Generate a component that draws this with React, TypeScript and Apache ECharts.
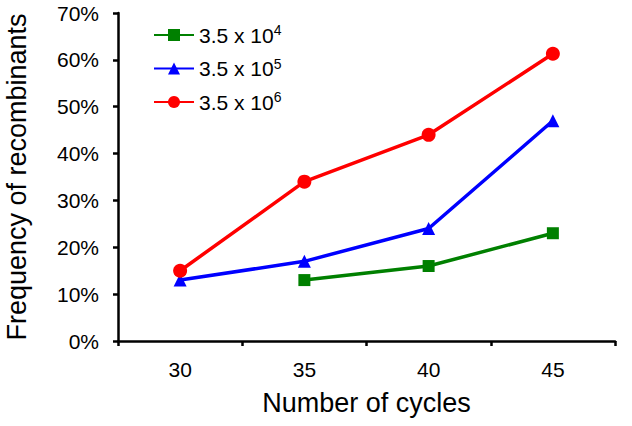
import React, { useEffect, useRef } from "react";
import * as echarts from "echarts";

const categories = ["30", "35", "40", "45"];
const seriesNames = ["3.5 x 10^4", "3.5 x 10^5", "3.5 x 10^6"];
const green = [null, 13, 16, 23];
const blue = [13, 17, 24, 47];
const red = [15, 34, 44, 61.3];
const yTicks = [0, 10, 20, 30, 40, 50, 60, 70];

const FONT = "Liberation Sans, Arial, sans-serif";

export default function App() {
  const ref = useRef<HTMLDivElement>(null);
  useEffect(() => {
    if (!ref.current) return;
    const chart = echarts.init(ref.current, undefined, { renderer: "svg" });
    const mk = (name: string, data: any[], color: string, symbol: string, size: number) => ({
      name,
      type: "line",
      data,
      connectNulls: false,
      symbol,
      symbolSize: size,
      itemStyle: { color },
      lineStyle: { color, width: 3.5 },
    });
    chart.setOption({
      animation: false,
      textStyle: { fontFamily: FONT },
      grid: { left: 118, right: 17, top: 13, bottom: 85, containLabel: false, outerBoundsMode: "none" },
      legend: {
        orient: "vertical",
        left: 148,
        top: 18,
        padding: 5,
        itemWidth: 40,
        itemHeight: 15,
        itemGap: 11,
        data: seriesNames,
        formatter: (n: string) => n.replace(/\^(\d)/, "{sup|$1}"),
        textStyle: {
          fontFamily: FONT,
          fontSize: 21,
          color: "#000",
          rich: {
            sup: { fontSize: 14, fontFamily: FONT, color: "#000", verticalAlign: "top", padding: [0, 0, 10, 0] },
          },
        },
      },
      xAxis: {
        type: "category",
        data: categories,
        boundaryGap: true,
        name: "Number of cycles",
        nameLocation: "middle",
        nameGap: 48,
        nameTextStyle: { fontFamily: FONT, fontSize: 27, color: "#000" },
        axisLine: { lineStyle: { color: "#000", width: 2.5 } },
        axisTick: { show: true, inside: false, length: 5, lineStyle: { color: "#000", width: 2.5 } },
        axisLabel: { fontFamily: FONT, fontSize: 21, color: "#000", margin: 18 },
        splitLine: { show: false },
      },
      yAxis: {
        type: "value",
        min: yTicks[0],
        max: yTicks[yTicks.length - 1],
        interval: 10,
        name: "Frequency of recombinants",
        nameLocation: "middle",
        nameGap: 88,
        nameTextStyle: { fontFamily: FONT, fontSize: 27, color: "#000" },
        axisLine: { show: true, lineStyle: { color: "#000", width: 2.5 } },
        axisTick: { show: true, inside: false, length: 5, lineStyle: { color: "#000", width: 2.5 } },
        axisLabel: { fontFamily: FONT, fontSize: 21, color: "#000", margin: 19, formatter: "{value}%" },
        splitLine: { show: false },
      },
      series: [
        mk(seriesNames[0], green, "#008000", "rect", 12),
        mk(seriesNames[1], blue, "#0000ff", "triangle", 13),
        mk(seriesNames[2], red, "#ff0000", "circle", 14),
      ],
    });
    return () => chart.dispose();
  }, []);
  return <div ref={ref} style={{ width: 632, height: 426, position: "absolute", left: 0, top: 0 }} />;
}
